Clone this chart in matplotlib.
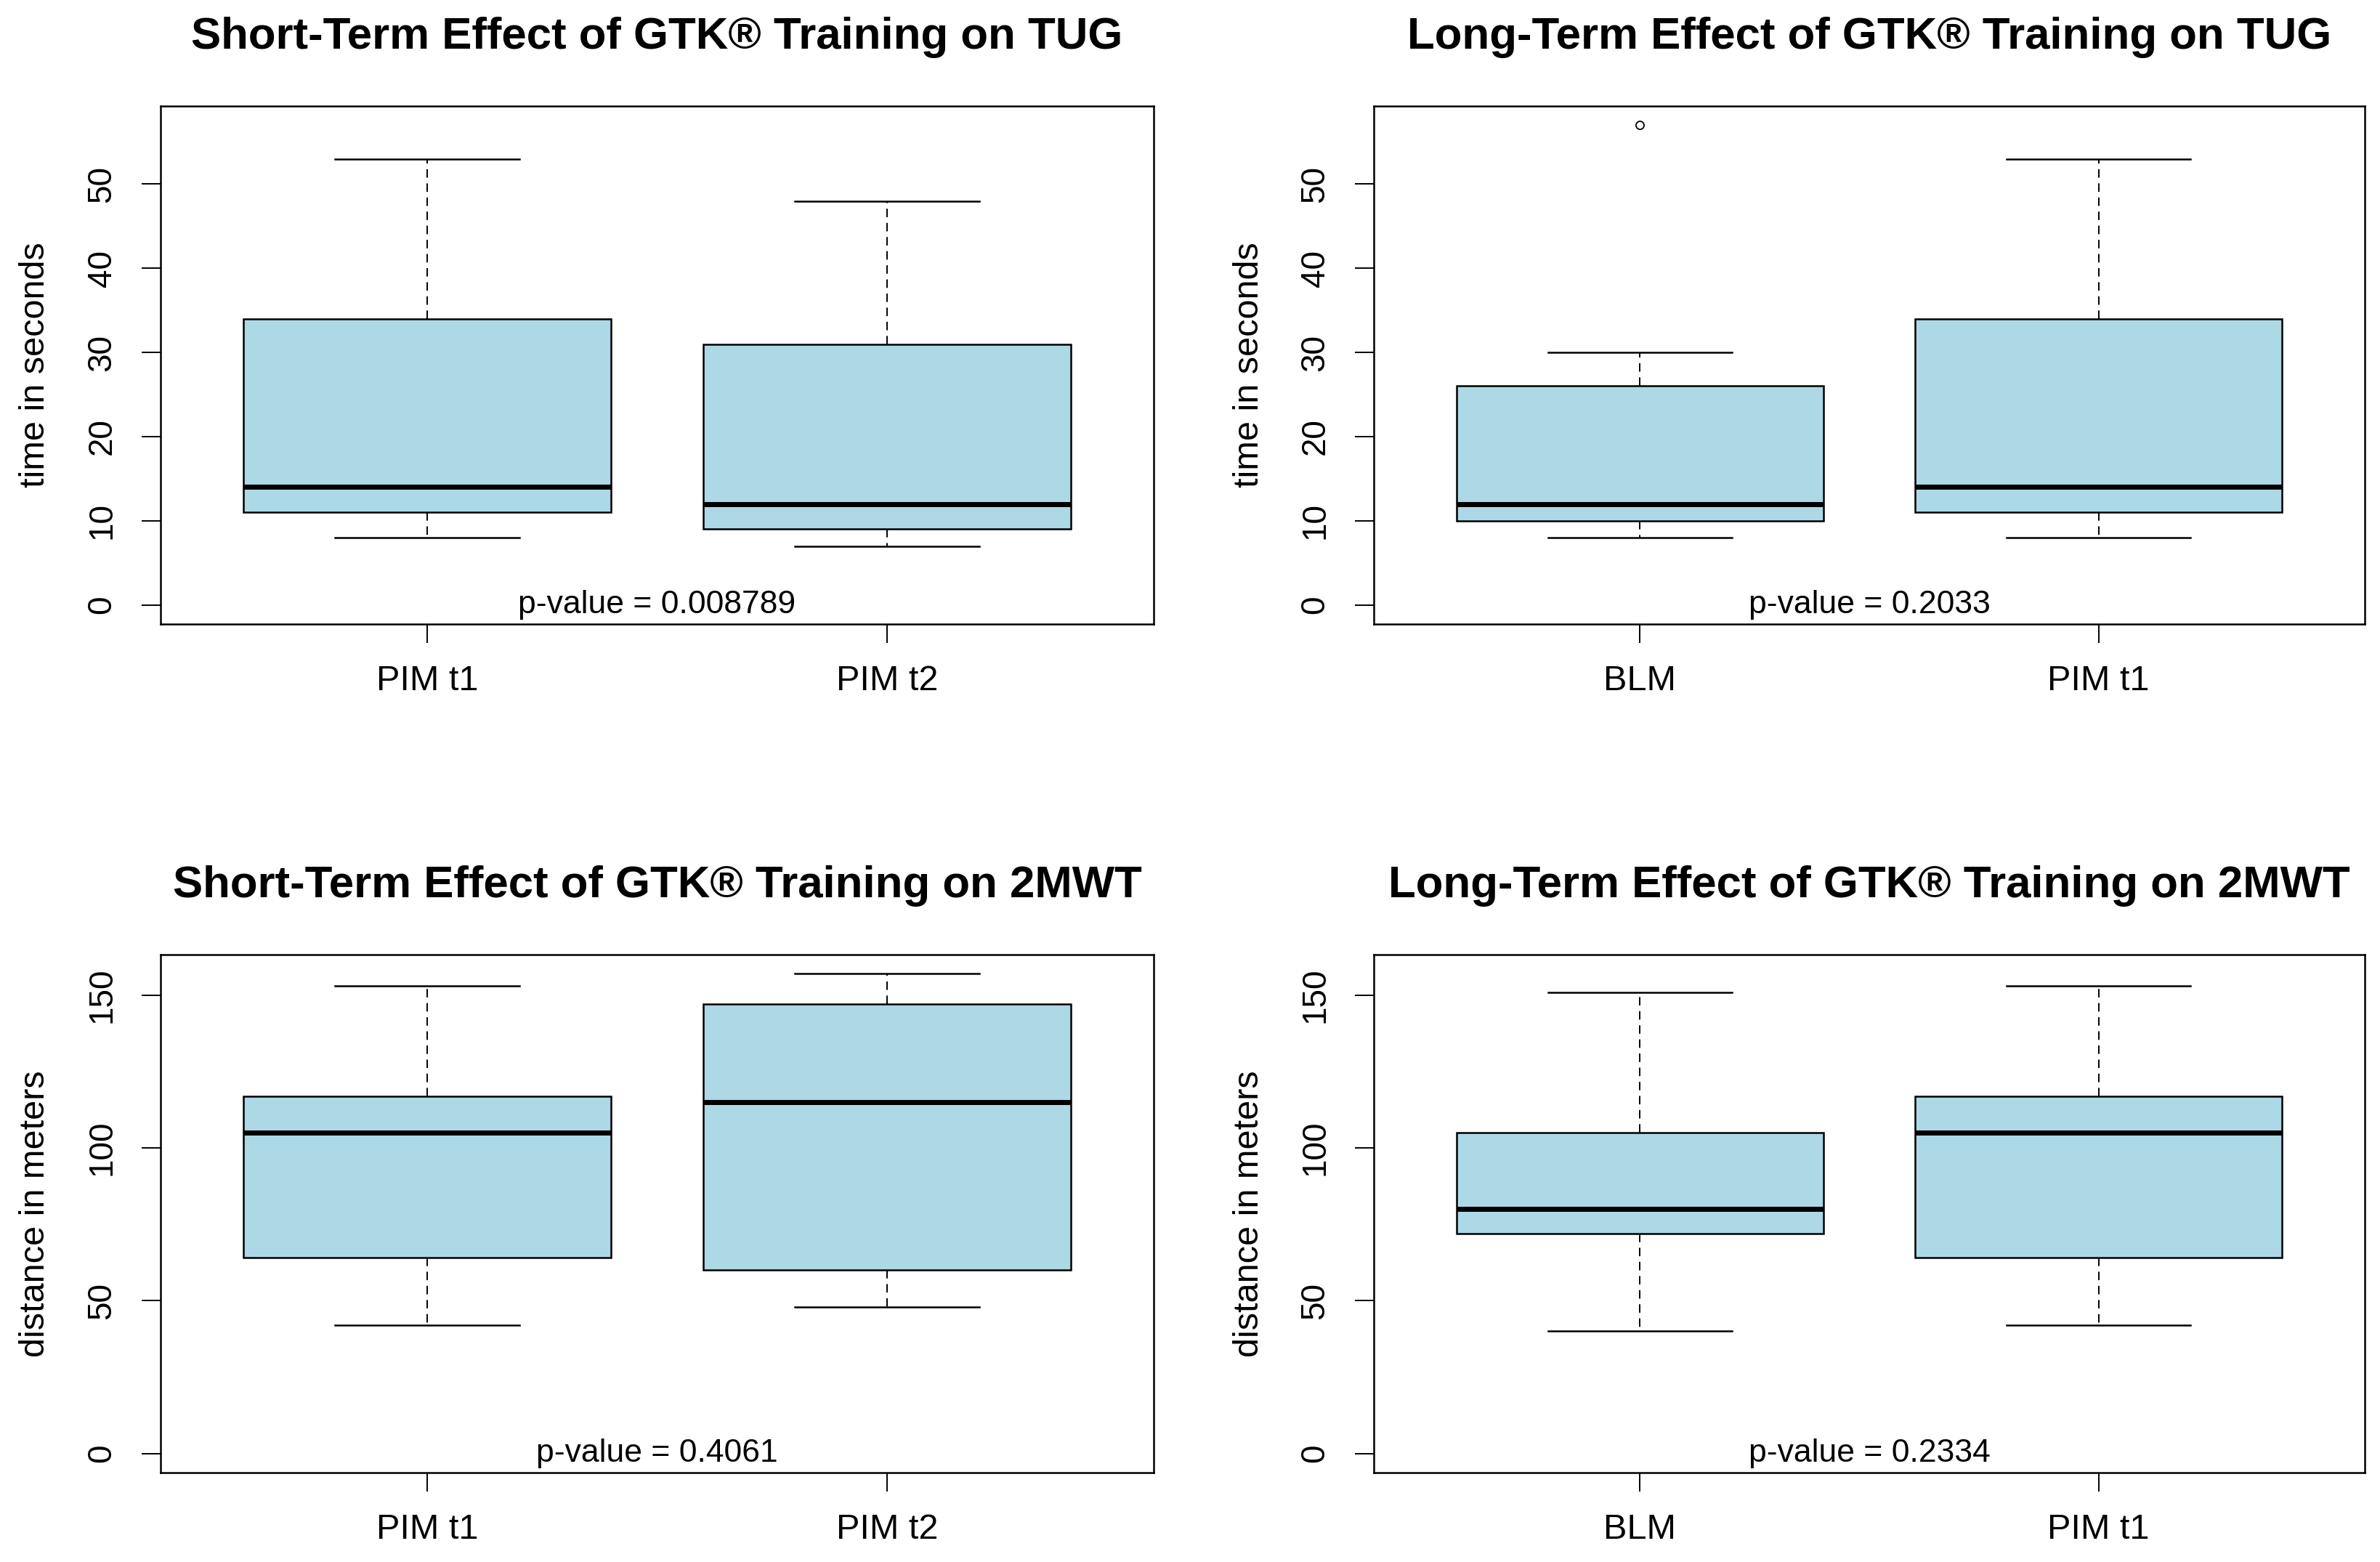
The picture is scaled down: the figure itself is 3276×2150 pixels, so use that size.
import matplotlib
matplotlib.use("Agg")
import matplotlib.pyplot as plt

plt.rcParams['font.family'] = ['Liberation Sans', 'DejaVu Sans']

# ---------------- data ----------------
titles = [
    "Short-Term Effect of GTK® Training on TUG",
    "Long-Term Effect of GTK® Training on TUG",
    "Short-Term Effect of GTK® Training on 2MWT",
    "Long-Term Effect of GTK® Training on 2MWT",
]
ylabels = ["time in seconds", "time in seconds", "distance in meters", "distance in meters"]
pvalues = ["p-value = 0.008789", "p-value = 0.2033", "p-value = 0.4061", "p-value = 0.2334"]

tug_short_labels = ["PIM t1", "PIM t2"]
tug_short_whislo = [8, 7]
tug_short_q1 = [11, 9]
tug_short_med = [14, 12]
tug_short_q3 = [34, 31]
tug_short_whishi = [53, 48]
tug_short_fliers = [[], []]

tug_long_labels = ["BLM", "PIM t1"]
tug_long_whislo = [8, 8]
tug_long_q1 = [10, 11]
tug_long_med = [12, 14]
tug_long_q3 = [26, 34]
tug_long_whishi = [30, 53]
tug_long_fliers = [[57], []]

mwt_short_labels = ["PIM t1", "PIM t2"]
mwt_short_whislo = [42, 48]
mwt_short_q1 = [64, 60]
mwt_short_med = [105, 115]
mwt_short_q3 = [117, 147]
mwt_short_whishi = [153, 157]
mwt_short_fliers = [[], []]

mwt_long_labels = ["BLM", "PIM t1"]
mwt_long_whislo = [40, 42]
mwt_long_q1 = [72, 64]
mwt_long_med = [80, 105]
mwt_long_q3 = [105, 117]
mwt_long_whishi = [151, 153]
mwt_long_fliers = [[], []]

tug_yticks = [0, 10, 20, 30, 40, 50]
mwt_yticks = [0, 50, 100, 150]

panels = [
    (tug_short_labels, tug_short_whislo, tug_short_q1, tug_short_med, tug_short_q3, tug_short_whishi, tug_short_fliers, tug_yticks),
    (tug_long_labels, tug_long_whislo, tug_long_q1, tug_long_med, tug_long_q3, tug_long_whishi, tug_long_fliers, tug_yticks),
    (mwt_short_labels, mwt_short_whislo, mwt_short_q1, mwt_short_med, mwt_short_q3, mwt_short_whishi, mwt_short_fliers, mwt_yticks),
    (mwt_long_labels, mwt_long_whislo, mwt_long_q1, mwt_long_med, mwt_long_q3, mwt_long_whishi, mwt_long_fliers, mwt_yticks),
]
# panels sharing the same measure share the y range
shared_groups = [[0, 1], [0, 1], [2, 3], [2, 3]]


def panel_max(p):
    whi, fl = p[5], p[6]
    return max(max(whi), max([max(f) if f else 0 for f in fl]))


# ---------------- layout ----------------
W, H = 3276, 2150
fig = plt.figure(figsize=(W / 100, H / 100), dpi=100)
fig.patch.set_facecolor("white")

ax_px = [  # left, right, top, bottom in pixels
    (221, 1588, 146, 859),
    (1891, 3255, 146, 859),
    (221, 1588, 1314, 2027),
    (1891, 3255, 1314, 2027),
]

BOX_COLOR = "#ADD8E6"

for i, (labels, wlo, q1, med, q3, whi, fl, yt) in enumerate(panels):
    l, r, t, b = ax_px[i]
    ax = fig.add_axes([l / W, 1 - b / H, (r - l) / W, (b - t) / H])
    stats = []
    for j in range(len(labels)):
        stats.append(dict(whislo=wlo[j], q1=q1[j], med=med[j], q3=q3[j],
                          whishi=whi[j], fliers=fl[j], label=labels[j]))
    ax.bxp(stats, positions=[1, 2], widths=0.8, capwidths=0.4,
           patch_artist=True, showfliers=True,
           boxprops=dict(facecolor=BOX_COLOR, edgecolor="black", linewidth=1.8),
           medianprops=dict(color="black", linewidth=5),
           whiskerprops=dict(color="black", linewidth=1.4, linestyle=(0, (6, 4))),
           capprops=dict(color="black", linewidth=1.8),
           flierprops=dict(marker="o", markerfacecolor="none", markeredgecolor="black",
                           markersize=8, markeredgewidth=1.3))
    # R style limits: 0 to the largest value of the measure, plus 4 % padding
    ymax = max(panel_max(panels[k]) for k in shared_groups[i])
    ymin = 0
    pad = 0.04 * (ymax - ymin)
    ax.set_ylim(ymin - pad, ymax + pad)
    ax.set_xlim(0.5 - 0.08, 2.5 + 0.08)
    ax.set_xticks([1, 2])
    ax.set_xticklabels(labels, fontsize=35)
    ax.set_yticks(yt)
    ax.set_yticklabels([str(v) for v in yt], fontsize=33)
    for lab in ax.get_yticklabels():
        lab.set_rotation(90)
        lab.set_va("center")
    ax.tick_params(axis="x", length=19, width=1.4, pad=21)
    ax.tick_params(axis="y", length=19, width=1.4, pad=23)
    for s in ax.spines.values():
        s.set_linewidth(1.8)
    # p-value text
    ax.text(1.5, 0, pvalues[i], ha="center", va="center", fontsize=32)
    # title
    ax.annotate(titles[i], xy=(0.5, 1), xycoords="axes fraction",
                xytext=(0, 94 * 0.72), textcoords="offset points",
                ha="center", va="center", fontsize=44.5, fontweight="bold")
    # y label
    fig.text((l - 172) / W, 1 - (t + b) / 2 / H, ylabels[i], rotation=90,
             ha="center", va="center", fontsize=35)

fig.savefig("out.png", dpi=100, facecolor="white")
